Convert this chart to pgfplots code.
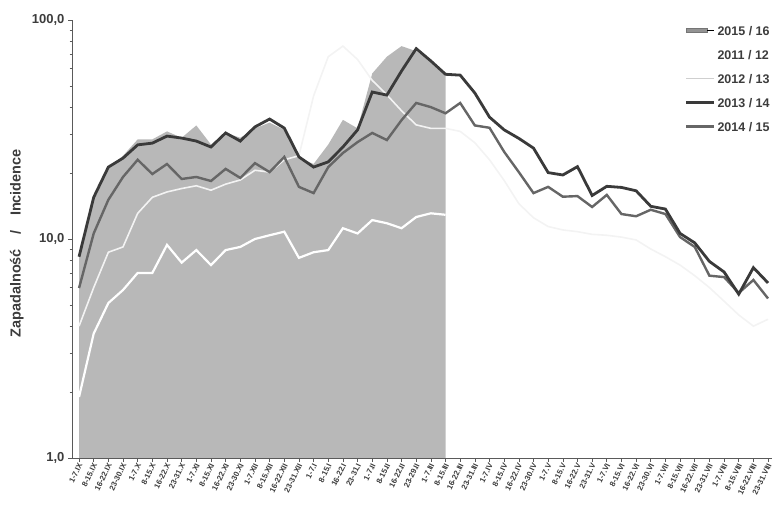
\documentclass[border=0pt]{standalone}
\usepackage{fontspec}
\setmainfont{Liberation Sans}
\usepackage{pgfplots}
\pgfplotsset{compat=1.18}

\definecolor{areagray}{RGB}{184,184,184}
\definecolor{darkline}{RGB}{58,58,58}
\definecolor{midline}{RGB}{102,102,102}
\definecolor{paleline}{RGB}{243,243,243}
\definecolor{txt}{RGB}{60,60,60}
\definecolor{axisgray}{RGB}{90,90,90}

\begin{document}
\begin{tikzpicture}
\useasboundingbox (0pt,0pt) rectangle (775pt,510pt);
\begin{axis}[
  at={(72pt,52pt)}, anchor=south west,
  scale only axis, width=700pt, height=438pt,
  ymode=log, ymin=1, ymax=100,
  xmin=-0.48, xmax=47.27,
  enlargelimits=false,
  axis x line=bottom, axis y line=left,
  axis line style={-, draw=axisgray, line width=0.8pt},
  every outer x axis line/.append style={-},
  every outer y axis line/.append style={-},
  tick align=outside,
  tick style={draw=axisgray, line width=0.6pt},
  major tick length=4pt, minor tick length=2.5pt,
  ytick={1,10,100},
  yticklabels={{1,0},{10,0},{100,0}},
  yticklabel style={font=\bfseries\fontsize{13}{15}\selectfont, text=txt},
  xtick={0,...,47},
  xticklabels={1-7.IX,8-15.IX,16-22.IX,23-30.IX,
    1-7.X,8-15.X,16-22.X,23-31.X,
    1-7.XI,8-15.XI,16-22.XI,23-30.XI,
    1-7.XII,8-15.XII,16-22.XII,23-31.XII,
    1-7.I,8-15.I,16-22.I,23-31.I,
    1-7.II,8-15.II,16-22.II,23-29.II,
    1-7.III,8-15.III,16-22.III,23-31.III,
    1-7.IV,8-15.IV,16-22.IV,23-30.IV,
    1-7.V,8-15.V,16-22.V,23-31.V,
    1-7.VI,8-15.VI,16-22.VI,23-30.VI,
    1-7.VII,8-15.VII,16-22.VII,23-31.VII,
    1-7.VIII,8-15.VIII,16-22.VIII,23-31.VIII},
  xticklabel style={rotate=64, anchor=east, yshift=-2pt, font=\bfseries\fontsize{7.8}{9}\selectfont, text=txt, inner sep=1pt},
  /pgf/number format/assume math mode=true,
  ylabel={Zapadalność\quad/\quad Incidence},
  ylabel style={at={(axis description cs:-0.079,0.49)}, anchor=center, font=\bfseries\fontsize{14.5}{16}\selectfont, text=txt},
  legend style={draw=none, fill=none, at={(axis description cs:0.871,0.992)}, anchor=north west,
    font=\bfseries\fontsize{12.5}{14}\selectfont, text=txt, row sep=14.5pt,
    nodes={text height=9.5pt, text depth=0pt, inner ysep=0pt}},
  legend cell align=left,
  legend image code/.code={\draw[#1] (0pt,0pt) -- (21pt,0pt); \path (21pt,0pt) -- (28pt,0pt);},
]

% season 2015/16 as a filled area, up to 8-15.III
\addplot[fill=areagray, draw=none, forget plot] coordinates {
  (0,1) (0,8.6) (1,15.5) (2,21) (3,24) (4,28.5) (5,28.5) (6,31) (7,29)
  (8,33) (9,27) (10,30.5) (11,29) (12,32) (13,34) (14,31.5) (15,23.5)
  (16,22) (17,27) (18,35) (19,32) (20,57) (21,68) (22,76) (23,72)
  (24,65) (25,56) (25,1)} -- cycle;

% season 2012/13
\addplot[paleline, line width=1.6pt, forget plot] coordinates {
  (0,4.0) (1,6.0) (2,8.7) (3,9.2) (4,13.1) (5,15.5) (6,16.4) (7,17.0)
  (8,17.5) (9,16.7) (10,17.8) (11,18.6) (12,20.6) (13,20.2) (14,23.0)
  (15,24.0) (16,45.0) (17,68.0) (18,76.0) (19,66.0) (20,53.0) (21,45.5)
  (22,38.5) (23,33.2) (24,32.0) (25,32.0) (26,31.0) (27,27.5) (28,23.0)
  (29,18.5) (30,14.5) (31,12.5) (32,11.4) (33,11.0) (34,10.8) (35,10.5)
  (36,10.4) (37,10.2) (38,9.9) (39,9.0) (40,8.3) (41,7.6) (42,6.8)
  (43,6.0) (44,5.2) (45,4.5) (46,4.0) (47,4.3)};

% season 2011/12
\addplot[white, line width=2.2pt, forget plot] coordinates {
  (0,1.9) (1,3.7) (2,5.1) (3,5.85) (4,7.0) (5,7.0) (6,9.4) (7,7.8)
  (8,8.9) (9,7.6) (10,8.9) (11,9.2) (12,10.0) (13,10.4) (14,10.8)
  (15,8.2) (16,8.7) (17,8.9) (18,11.2) (19,10.6) (20,12.2) (21,11.8)
  (22,11.2) (23,12.6) (24,13.1) (25,12.9)};

% season 2014/15
\addplot[midline, line width=2.4pt, forget plot] coordinates {
  (0,5.97) (1,10.6) (2,15.1) (3,19.2) (4,23.0) (5,19.8) (6,22.0) (7,18.8)
  (8,19.2) (9,18.4) (10,20.9) (11,19.0) (12,22.2) (13,20.2) (14,23.7)
  (15,17.3) (16,16.2) (17,21.3) (18,24.7) (19,27.7) (20,30.5) (21,28.3)
  (22,34.9) (23,41.8) (24,40.0) (25,37.5) (26,41.8) (27,33.0) (28,32.2)
  (29,25.0) (30,20.2) (31,16.2) (32,17.3) (33,15.6) (34,15.7) (35,14.0)
  (36,15.9) (37,13.0) (38,12.7) (39,13.6) (40,13.0) (41,10.2) (42,9.2)
  (43,6.8) (44,6.7) (45,5.67) (46,6.5) (47,5.35)};

% season 2013/14
\addplot[darkline, line width=2.8pt, forget plot] coordinates {
  (0,8.3) (1,15.5) (2,21.3) (3,23.4) (4,26.9) (5,27.4) (6,29.5) (7,28.9)
  (8,28.0) (9,26.3) (10,30.5) (11,28.0) (12,32.5) (13,35.3) (14,32.1)
  (15,23.7) (16,21.3) (17,22.5) (18,26.3) (19,31.5) (20,46.9) (21,45.4)
  (22,58.5) (23,74.0) (24,65.0) (25,56.5) (26,56.0) (27,46.4) (28,36.0)
  (29,31.5) (30,28.8) (31,26.0) (32,20.1) (33,19.6) (34,21.4) (35,15.8)
  (36,17.4) (37,17.2) (38,16.6) (39,14.1) (40,13.7) (41,10.6) (42,9.6)
  (43,7.9) (44,7.07) (45,5.6) (46,7.4) (47,6.3)};

\addlegendimage{legend image code/.code={\fill[areagray!80!black] (0pt,-2.2pt) rectangle (21pt,2.2pt); \draw[darkline!70, line width=0.6pt] (0pt,-2.2pt) rectangle (21pt,2.2pt); \path (21pt,0pt) -- (28pt,0pt);}}
\addlegendimage{white, line width=2pt}
\addlegendimage{paleline!85!black, line width=1.6pt}
\addlegendimage{darkline, line width=2.6pt}
\addlegendimage{midline, line width=2.6pt}
\legend{2015 / 16, 2011 / 12, 2012 / 13, 2013 / 14, 2014 / 15}
\end{axis}
\end{tikzpicture}
\end{document}
